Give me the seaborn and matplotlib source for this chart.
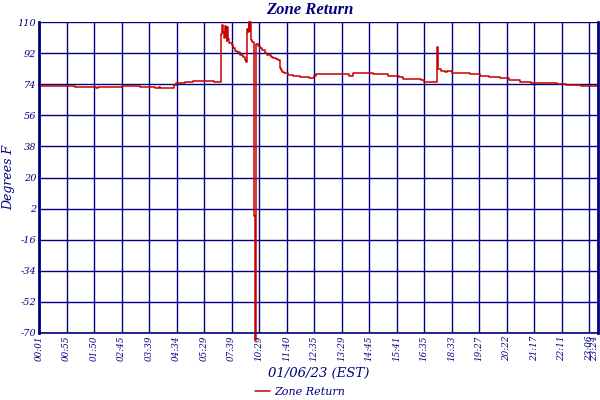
import numpy as np
import pandas as pd
import seaborn as sns
import matplotlib.pyplot as plt
import matplotlib as mpl

mpl.use('Agg')

# readings (sample number, deg F) - value holds until the next sample listed
sample_no = [0, 53, 83, 86, 121, 147, 169, 175, 176, 197,
             199, 213, 224, 255, 265, 266, 268, 269, 270, 272,
             273, 274, 275, 277, 280, 282, 285, 288, 293, 297,
             300, 301, 302, 303, 304, 305, 306, 307, 308, 309,
             310, 312, 313, 314, 315, 319, 322, 325, 329, 332,
             337, 341, 345, 348, 350, 352, 354, 357, 362, 370,
             380, 393, 400, 403, 451, 456, 486, 507, 523, 530,
             555, 560, 579, 580, 581, 585, 590, 594, 597, 601,
             611, 627, 642, 655, 671, 684, 700, 715, 737, 754,
             766, 788, 813]
zone_return = [73.0, 72.2, 71.6, 72.2, 73.0, 72.2, 71.6, 72.2, 71.6, 73.5,
               74.5, 75.1, 75.8, 75.1, 103.0, 108.5, 104.0, 100.5, 107.5, 102.0,
               99.0, 107.0, 100.0, 98.0, 96.7, 94.8, 93.5, 92.8, 90.9, 89.7,
               88.0, 87.0, 104.0, 106.0, 104.0, 110.0, 105.0, 110.0, 103.0, 99.8,
               98.3, 10.0, -2.0, -74.0, 97.0, 96.3, 95.0, 93.8, 92.2, 90.9,
               89.9, 89.2, 88.4, 87.8, 83.6, 82.2, 81.1, 80.3, 79.5, 78.9,
               78.3, 77.8, 78.5, 79.7, 78.9, 80.5, 79.7, 78.9, 78.3, 76.8,
               76.2, 75.3, 95.3, 88.0, 82.6, 81.8, 81.1, 81.8, 81.4, 80.7,
               80.3, 79.7, 78.9, 78.3, 77.8, 76.3, 75.4, 74.9, 74.5, 74.1,
               73.7, 73.0, 73.0]

tick_idx = [0, 40, 80, 120, 160, 200, 240, 280, 320, 360, 400, 440, 480, 520,
            560, 600, 640, 680, 720, 760, 800, 813]
tick_labels = ['00:01', '00:55', '01:50', '02:45', '03:39', '04:34', '05:29',
               '07:39', '10:29', '11:40', '12:35', '13:29', '14:45', '15:41',
               '16:35', '18:33', '19:27', '20:22', '21:17', '22:11', '23:06',
               '23:24']
y_ticks = [110, 92, 74, 56, 38, 20, 2, -16, -34, -52, -70]

df = pd.DataFrame({'sample': sample_no, 'Zone Return': zone_return})

navy = '#000080'
sns.set_style('white')
plt.rcParams['font.family'] = ['DejaVu Serif']

fig = plt.figure(figsize=(6, 4), dpi=100)
ax = fig.add_axes([0.065, 0.1675, 0.9317, 0.7775])

sns.lineplot(data=df, x='sample', y='Zone Return', ax=ax, color='#c80000',
             lw=1.1, drawstyle='steps-post', estimator=None, sort=False,
             label='Zone Return', clip_on=False, legend=False)

ax.set_xlim(0, 813)
ax.set_ylim(-70, 110)
ax.set_xticks(tick_idx)
# the last label sits on the right edge; draw it nudged inward
ax.set_xticklabels(tick_labels[:-1] + [''], rotation=90, fontsize=6.3,
                   style='italic', color=navy)
ax.annotate(tick_labels[-1], xy=(tick_idx[-1], 0),
            xycoords=('data', 'axes fraction'), xytext=(-2.2, -1.5),
            textcoords='offset points', rotation=90, ha='center', va='top',
            fontsize=6.3, style='italic', color=navy)
ax.set_yticks(y_ticks)
ax.set_yticklabels([str(v) for v in y_ticks], fontsize=7, style='italic',
                   color=navy)
ax.tick_params(length=0, pad=2)
ax.grid(True, color=navy, lw=1)
for side in ['left', 'bottom', 'right', 'top']:
    ax.spines[side].set_color(navy)
ax.spines['left'].set_linewidth(2)
ax.spines['right'].set_linewidth(2)
ax.spines['bottom'].set_linewidth(1.2)
ax.spines['top'].set_visible(False)

ax.set_title('Zone Return', fontsize=12, style='italic', weight='bold',
             color=navy, pad=6, family='Liberation Serif', x=0.485)
ax.set_xlabel('01/06/23 (EST)', fontsize=9.5, style='italic', color=navy,
              labelpad=4)
ax.set_ylabel('Degrees F', fontsize=9, style='italic', color=navy,
              labelpad=2)

handles, labels = ax.get_lines()[:1], ['Zone Return']
leg = fig.legend(handles, labels, loc='center', bbox_to_anchor=(0.5, 0.02),
                 frameon=False, fontsize=8, handlelength=1.3,
                 handletextpad=0.4, borderpad=0)
for t in leg.get_texts():
    t.set_color(navy)
    t.set_style('italic')

plt.savefig('out.png', dpi=100)
